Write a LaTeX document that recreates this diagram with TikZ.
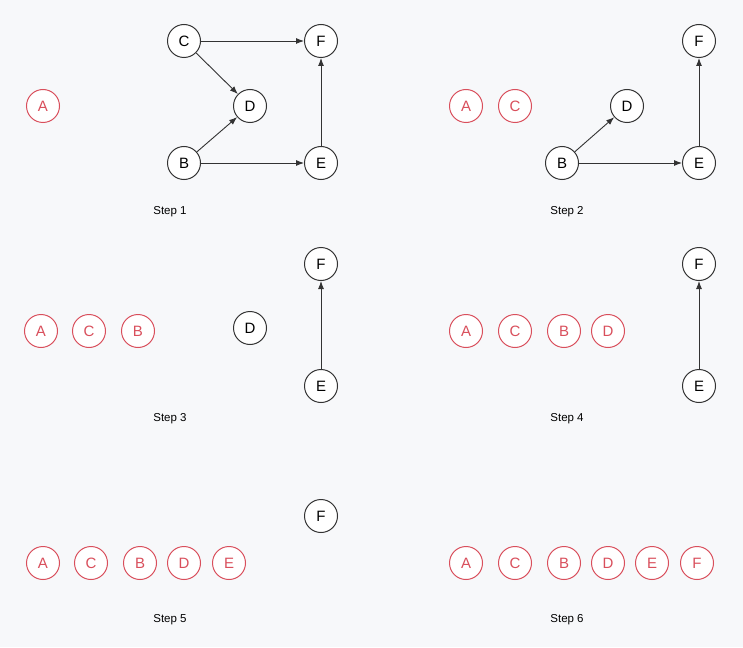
\documentclass[tikz,border=0pt]{standalone}
\usepackage{fontspec}
\setmainfont{Liberation Sans}
\usetikzlibrary{arrows.meta}
\definecolor{bg}{HTML}{F7F8FA}
\definecolor{redc}{HTML}{D94F5C}
\definecolor{darkc}{HTML}{333333}
\tikzset{
  vis/.style={circle,draw=redc,line width=1pt,fill=white,minimum size=33pt,inner sep=0pt,text=redc,font=\fontsize{15}{17}\selectfont},
  unv/.style={circle,draw=darkc,line width=1pt,fill=white,minimum size=33pt,inner sep=0pt,text=black,font=\fontsize{15}{17}\selectfont},
  edge/.style={draw=darkc,line width=0.9pt,-{Latex[length=8pt,width=6pt]}},
  steplabel/.style={font=\fontsize{11.5}{13}\selectfont,text=black}
}
\begin{document}
\begin{tikzpicture}[x=1pt,y=-1pt]
\fill[bg] (0,0) rectangle (743,647);
\useasboundingbox (0,0) rectangle (743,647);
% Step 1
\node[vis] (a1) at (43,106) {A};
\node[unv] (c1) at (184,41) {C};
\node[unv] (f1) at (321,41) {F};
\node[unv] (d1) at (250,106) {D};
\node[unv] (b1) at (184,163) {B};
\node[unv] (e1) at (321,163) {E};
\draw[edge] (c1) -- (f1);
\draw[edge] (c1) -- (d1);
\draw[edge] (b1) -- (d1);
\draw[edge] (b1) -- (e1);
\draw[edge] (e1) -- (f1);
\node[steplabel] (s1) at (170,212) {Step 1};
% Step 2
\node[vis] (a2) at (466,106) {A};
\node[vis] (c2) at (515,106) {C};
\node[unv] (d2) at (627,106) {D};
\node[unv] (b2) at (562,163) {B};
\node[unv] (e2) at (699,163) {E};
\node[unv] (f2) at (699,41) {F};
\draw[edge] (b2) -- (d2);
\draw[edge] (b2) -- (e2);
\draw[edge] (e2) -- (f2);
\node[steplabel] (s2) at (567,212) {Step 2};
% Step 3
\node[vis] (a3) at (41,331) {A};
\node[vis] (c3) at (89,331) {C};
\node[vis] (b3) at (138,331) {B};
\node[unv] (d3) at (250,328) {D};
\node[unv] (f3) at (321,264) {F};
\node[unv] (e3) at (321,386) {E};
\draw[edge] (e3) -- (f3);
\node[steplabel] (s3) at (170,419) {Step 3};
% Step 4
\node[vis] (a4) at (466,331) {A};
\node[vis] (c4) at (515,331) {C};
\node[vis] (b4) at (564,331) {B};
\node[vis] (d4) at (608,331) {D};
\node[unv] (f4) at (699,264) {F};
\node[unv] (e4) at (699,386) {E};
\draw[edge] (e4) -- (f4);
\node[steplabel] (s4) at (567,419) {Step 4};
% Step 5
\node[vis] (a5) at (43,563) {A};
\node[vis] (c5) at (91,563) {C};
\node[vis] (b5) at (140,563) {B};
\node[vis] (d5) at (184,563) {D};
\node[vis] (e5) at (229,563) {E};
\node[unv] (f5) at (321,516) {F};
\node[steplabel] (s5) at (170,620) {Step 5};
% Step 6
\node[vis] (a6) at (466,563) {A};
\node[vis] (c6) at (515,563) {C};
\node[vis] (b6) at (564,563) {B};
\node[vis] (d6) at (608,563) {D};
\node[vis] (e6) at (652,563) {E};
\node[vis] (f6) at (697,563) {F};
\node[steplabel] (s6) at (567,620) {Step 6};
\end{tikzpicture}
\end{document}
